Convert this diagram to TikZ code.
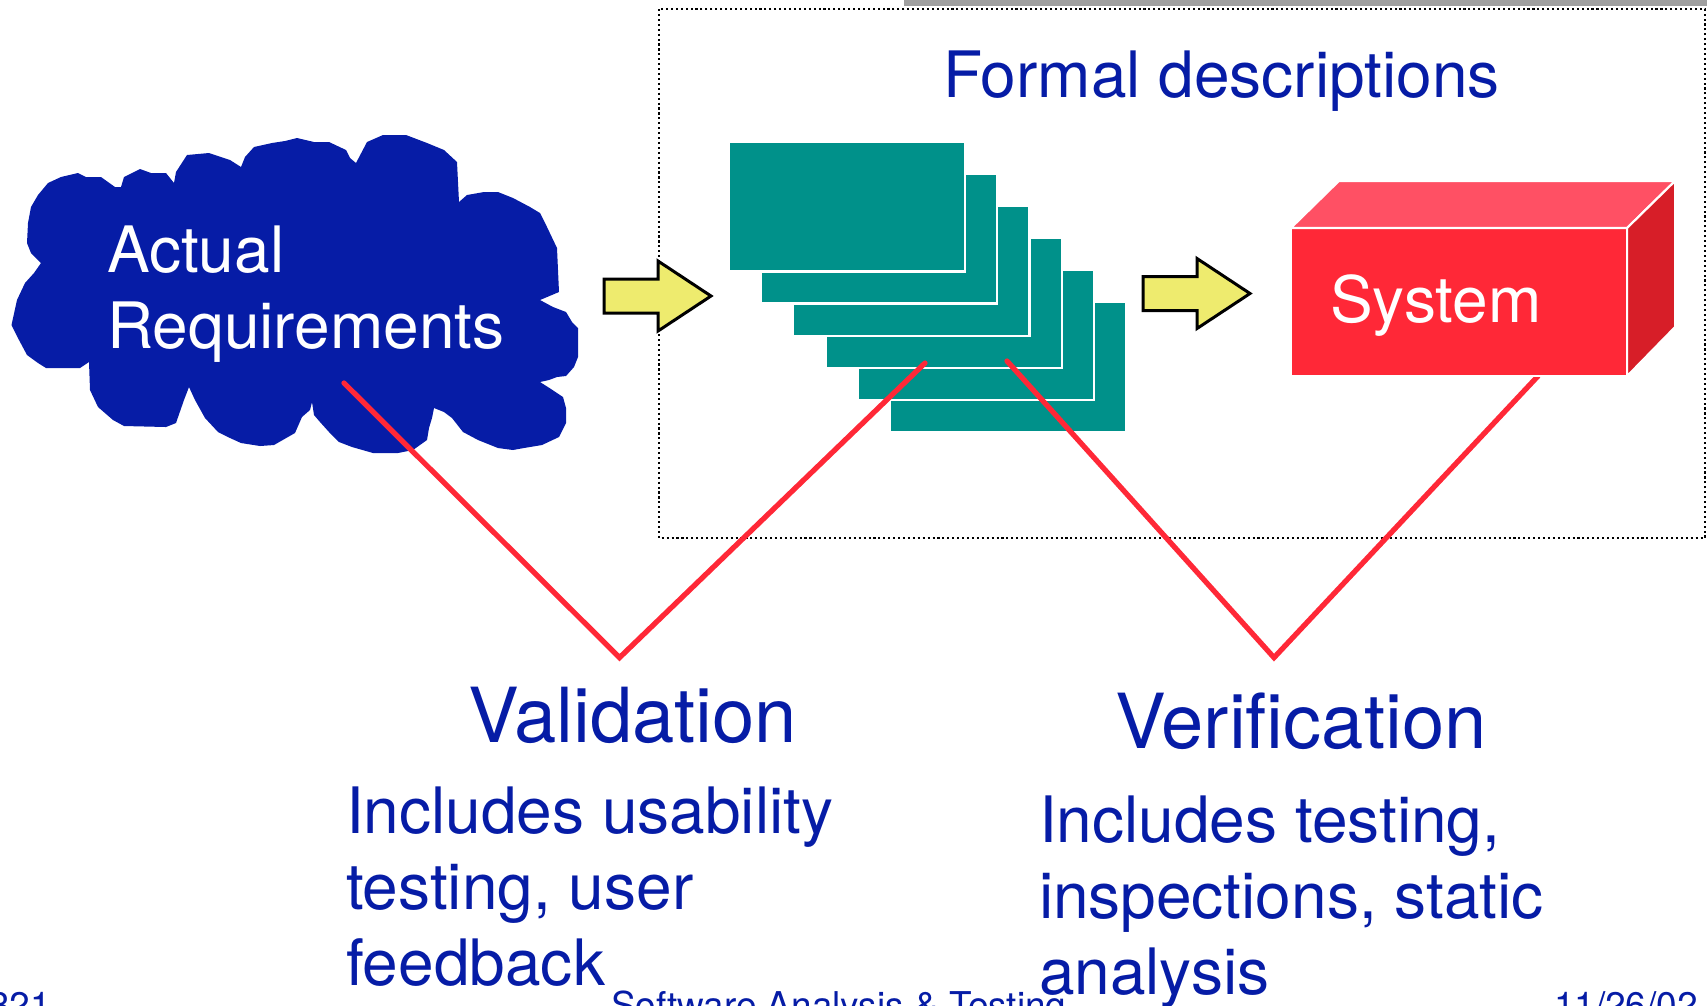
\documentclass[tikz,border=0pt]{standalone}
\usepackage{fontspec}
\setmainfont{TeX Gyre Heros}
\usepackage{tikz}
\usetikzlibrary{positioning}

\definecolor{cloudblue}{RGB}{6,28,166}
\definecolor{descteal}{RGB}{0,145,138}
\definecolor{arrowyellow}{RGB}{238,235,110}
\definecolor{sysred}{RGB}{255,40,55}
\definecolor{systop}{RGB}{255,80,100}
\definecolor{sysside}{RGB}{215,30,40}
\definecolor{bargray}{RGB}{160,160,160}

\begin{document}
\begin{tikzpicture}[x=0.01cm,y=-0.01cm,line join=miter,
    every node/.style={inner sep=0pt,outer sep=0pt},
    bodytext/.style={text=cloudblue,font=\fontsize{18.2pt}{21.6pt}\selectfont,anchor=base west,align=left},
    headtext/.style={text=cloudblue,font=\fontsize{21.6pt}{25pt}\selectfont,anchor=base west},
    foottext/.style={text=cloudblue,font=\fontsize{10.5pt}{12pt}\selectfont,anchor=base west},
    descbox/.style={draw=white,line width=0.6pt,fill=descteal,minimum width=2.36cm,minimum height=1.30cm},
    sysface/.style={draw=white,line width=0.6pt},
    redline/.style={draw=sysred,line width=1.5pt,line cap=round},
    fatarrow/.pic={\filldraw[fill=arrowyellow,draw=black,line width=0.85pt]
        (0,-17) -- (54,-17) -- (54,-35) -- (107,0) -- (54,35) -- (54,17) -- (0,17) -- cycle;}]
    % 设置画布
    \clip (0,0) rectangle (1707,1005);
    \fill[bargray] (904,0) rectangle (1707,6);
    \draw[line width=0.6pt,dash pattern=on 0.6pt off 0.8pt] (659,9) rectangle (1705,538);

    % 云
    \fill[cloudblue] (11.5,325) -- (17,300) -- (25,283) -- (34,273) -- (41,263) -- (31,253)
        -- (27,243) -- (28,223) -- (31,207) -- (38,195) -- (48,183) -- (61,177) -- (78,173)
        -- (86,177) -- (101,177) -- (115,187) -- (121,187) -- (124,177) -- (140,169) -- (151,173)
        -- (166,173) -- (174,183) -- (176,172) -- (187,155) -- (209,153) -- (230,160) -- (241,167)
        -- (245,157) -- (254,147) -- (272,143) -- (285,141) -- (297,138) -- (314,142) -- (329,142)
        -- (346,150) -- (350,158) -- (356,163) -- (367,142) -- (383,135) -- (406,135) -- (427,143)
        -- (444,150) -- (457,162) -- (459,202) -- (467,195) -- (484,192) -- (498,192) -- (513,198)
        -- (530,207) -- (540,213) -- (547,227) -- (557,248) -- (559,292) -- (540,300) -- (553,307)
        -- (566,312) -- (572,322) -- (578,328) -- (578,357) -- (574,367) -- (566,376) -- (557,377)
        -- (549,380) -- (540,382) -- (551,389) -- (563,397) -- (566,408) -- (566,423) -- (559,437)
        -- (542,445) -- (524,448) -- (513,450) -- (498,448) -- (478,440) -- (463,432) -- (452,418)
        -- (444,412) -- (434,408) -- (432,418) -- (429,428) -- (427,440) -- (413,450) -- (398,453)
        -- (373,453) -- (352,447) -- (339,442) -- (329,432) -- (320,422) -- (314,415) -- (312,402)
        -- (310,410) -- (302,417) -- (295,433) -- (274,445) -- (260,446) -- (241,443) -- (230,438)
        -- (218,432) -- (205,418) -- (195,400) -- (189,387) -- (184,400) -- (176,423) -- (166,427)
        -- (124,426) -- (113,420) -- (98,407) -- (90,390) -- (89,362) -- (80,368) -- (67,368)
        -- (46,368) -- (38,363) -- (27,355) -- (19,340) -- cycle;
    \node[bodytext,text=white] (req) at (107,348) {Actual\\Requirements};

    % 箭头
    \pic (arrowA) at (604,296) {fatarrow};
    \pic (arrowB) at (1143,293.5) {fatarrow};

    % 形式描述
    \node[bodytext] (formal) at (943,97.5) {Formal descriptions};
    \foreach \i in {5,4,...,0}
        \node[descbox] (desc\i) at ({847+32.2*\i},{206.5+32*\i}) {};

    % 连线
    \coordinate (reqend) at (344,383);
    \coordinate (valtip) at (619.5,657.6);
    \coordinate (descleft) at (925,363);
    \coordinate (descright) at (1007,361);
    \coordinate (vertip) at (1274,657.6);
    \coordinate (sysend) at (1538,376);
    \draw[redline] (reqend) -- (valtip) -- (descleft);
    \draw[redline] (descright) -- (vertip) -- (sysend);

    % 系统
    \node[sysface,fill=sysred,minimum width=3.36cm,minimum height=1.48cm] (sys) at (1459,302) {};
    \filldraw[sysface,fill=systop] (sys.north west) -- ++(48,-47) -- ++(336,0) -- (sys.north east) -- cycle;
    \filldraw[sysface,fill=sysside] (sys.north east) -- ++(48,-47) -- ++(0,146) -- (sys.south east) -- cycle;
    \node[bodytext,text=white] (systext) at (1330,322) {System};

    % 文字
    \node[headtext] (valid) at (468,742.5) {Validation};
    \node[bodytext] (validnote) at (346,985) {Includes usability\\testing, user\\feedback};
    \node[headtext] (verif) at (1115,748) {Verification};
    \node[bodytext] (verifnote) at (1039,994) {Includes testing,\\inspections, static\\analysis};
    \node[foottext] (pagenum) at (-11,1018) {321};
    \node[foottext] (course) at (611,1018) {Software Analysis \& Testing};
    \node[foottext] (date) at (1554,1018) {11/26/02};
\end{tikzpicture}
\end{document}
